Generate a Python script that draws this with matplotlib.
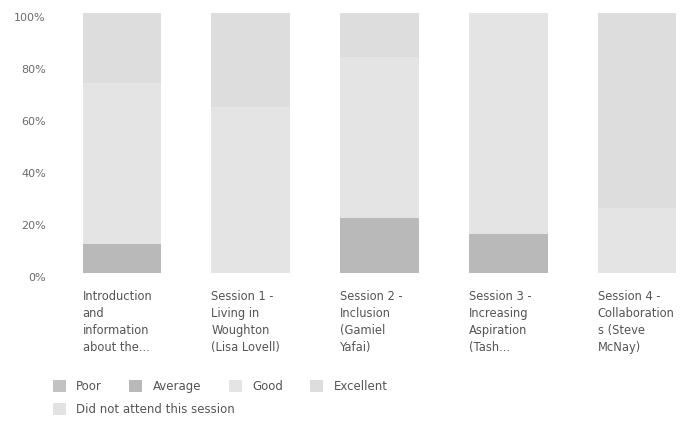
import numpy as np
import matplotlib.pyplot as plt
from matplotlib.ticker import PercentFormatter

plt.rcParams['font.family'] = ['DejaVu Sans']

sessions = [
    "Introduction\nand\ninformation\nabout the...",
    "Session 1 -\nLiving in\nWoughton\n(Lisa Lovell)",
    "Session 2 -\nInclusion\n(Gamiel\nYafai)",
    "Session 3 -\nIncreasing\nAspiration\n(Tash...",
    "Session 4 -\nCollaboration\ns (Steve\nMcNay)",
]
poor = [0, 0, 0, 0, 0]
average = [11, 0, 21, 15, 0]
good = [62, 64, 62, 85, 25]
excellent = [27, 36, 17, 0, 75]
did_not_attend = [0, 0, 0, 0, 0]

series = [("Poor", poor, "#c2c2c2"),
          ("Average", average, "#b9b9b9"),
          ("Good", good, "#e4e4e4"),
          ("Excellent", excellent, "#dddddd"),
          ("Did not attend this session", did_not_attend, "#e2e2e2")]

fig = plt.figure(figsize=(6.86, 4.21), dpi=100)
ax = fig.add_axes([75/686, 148/421, 611/686, 260/421])

x = np.arange(len(sessions))
w = 0.61
bottom = np.zeros(len(sessions))
handles = []
for name, vals, col in series:
    b = ax.bar(x, vals, w, bottom=bottom, color=col, label=name)
    handles.append(b)
    bottom += np.array(vals)

ax.set_xlim(-0.365, 4.38)
ax.set_ylim(0, 100)
ax.set_yticks(range(0, 101, 20))
ax.yaxis.set_major_formatter(PercentFormatter(decimals=0))
ax.tick_params(axis='y', length=0, labelsize=8, labelcolor='#6a6a6a', pad=21)
for t in ax.get_yticklabels():
    t.set_va('top')
ax.set_xticks([])
for s in ax.spines.values():
    s.set_visible(False)

for i, lab in enumerate(sessions):
    ax.text(i - w / 2, -0.065, lab, transform=ax.get_xaxis_transform(),
            ha='left', va='top', fontsize=8.3, color='#555555', linespacing=1.4)

fig.legend(handles[:4], [s[0] for s in series[:4]], ncol=4,
           loc='upper left', bbox_to_anchor=(42/686, 1 - 369/421),
           frameon=False, fontsize=8.5, labelcolor='#555555',
           handlelength=1.1, handleheight=1.3, columnspacing=2.3,
           handletextpad=0.9)
fig.legend(handles[4:], [series[4][0]], loc='upper left',
           bbox_to_anchor=(42/686, 1 - 392/421), frameon=False, fontsize=8.5,
           labelcolor='#555555', handlelength=1.1, handleheight=1.3,
           handletextpad=0.9)

plt.savefig('out.png', dpi=100)
